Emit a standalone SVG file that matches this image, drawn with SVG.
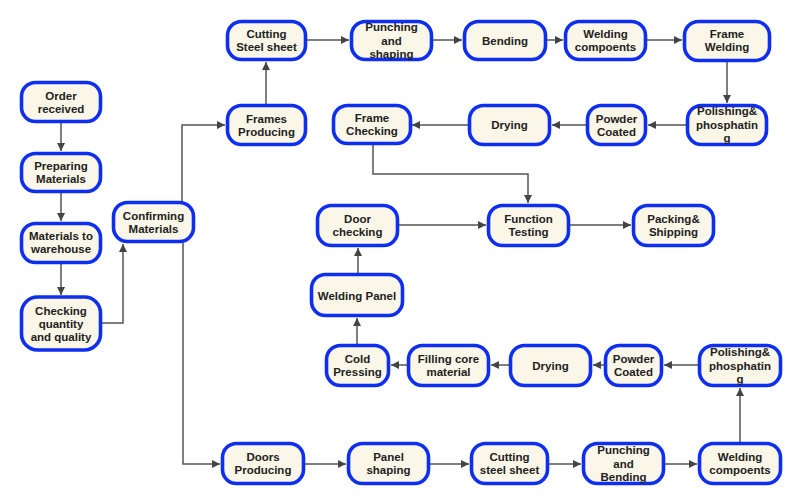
<svg xmlns="http://www.w3.org/2000/svg" width="800" height="504" viewBox="0 0 800 504">
<style>
.n rect{fill:#faf6e8;stroke:#0f2ff0;stroke-width:3.6}
.n text{font-family:"Liberation Sans",Arial,sans-serif;font-weight:bold;font-size:11.5px;fill:#222;text-anchor:middle;dominant-baseline:central}
.c path{fill:none;stroke:#555;stroke-width:1.5;marker-end:url(#a)}
</style>
<defs>
<marker id="a" viewBox="0 0 10 10" refX="10" refY="5" markerWidth="8" markerHeight="8" markerUnits="userSpaceOnUse" orient="auto">
<path d="M0,0 L10,5 L0,10 z" fill="#444"/>
</marker>
</defs>
<rect width="800" height="504" fill="#fff"/>
<g class="c" id="connectors">
<path d="M61,123 V151"/>
<path d="M61,193 V221"/>
<path d="M61,264 V295"/>
<path d="M102,323 H123 V244"/>
<path d="M182,201 V125 H225"/>
<path d="M183,243 V464 H220"/>
<path d="M266,104 V62"/>
<path d="M307,40 H349"/>
<path d="M433,40 H462"/>
<path d="M547,40 H563"/>
<path d="M647,40 H682"/>
<path d="M727,62 V103"/>
<path d="M686,125 H648"/>
<path d="M586,125 H552"/>
<path d="M468,125 H412"/>
<path d="M373,145 V174 H528 V203"/>
<path d="M399,225 H486"/>
<path d="M570,225 H631"/>
<path d="M358,273 V248"/>
<path d="M357,344 V318"/>
<path d="M407,365 H391"/>
<path d="M509,365 H491"/>
<path d="M604,365 H593"/>
<path d="M698,365 H664"/>
<path d="M740,442 V388"/>
<path d="M305,464 H346"/>
<path d="M430,464 H469"/>
<path d="M549,464 H581"/>
<path d="M665,464 H697"/>
</g>
<g class="n" id="order"><rect x="21.5" y="82.5" width="79" height="39" rx="14"/><text x="61" y="96">Order<tspan x="61" dy="13">received</tspan></text></g>
<g class="n" id="prep"><rect x="21.5" y="153.5" width="79" height="38" rx="14"/><text x="61" y="166">Preparing<tspan x="61" dy="13">Materials</tspan></text></g>
<g class="n" id="mat"><rect x="21.5" y="223.5" width="79" height="39" rx="14"/><text x="61" y="236">Materials to<tspan x="61" dy="13">warehouse</tspan></text></g>
<g class="n" id="check"><rect x="21.5" y="297" width="79" height="53" rx="16"/><text x="61" y="311">Checking<tspan x="61" dy="13">quantity</tspan><tspan x="61" dy="13">and quality</tspan></text></g>
<g class="n" id="confirm"><rect x="113.5" y="202.5" width="80" height="39" rx="14"/><text x="153.5" y="215.5">Confirming<tspan x="153.5" dy="13">Materials</tspan></text></g>
<g class="n" id="framesProd"><rect x="227.5" y="105.5" width="78" height="39" rx="14"/><text x="266.5" y="118.5">Frames<tspan x="266.5" dy="13">Producing</tspan></text></g>
<g class="n" id="cutTop"><rect x="227.5" y="21.5" width="78" height="38" rx="14"/><text x="266.5" y="34">Cutting<tspan x="266.5" dy="13">Steel sheet</tspan></text></g>
<g class="n" id="punchTop"><rect x="351.5" y="21.5" width="80" height="38" rx="14"/><text x="391.5" y="27">Punching<tspan x="391.5" dy="13.5">and</tspan><tspan x="391.5" dy="13.5">shaping</tspan></text></g>
<g class="n" id="bendTop"><rect x="464.5" y="21.5" width="81" height="38" rx="14"/><text x="505" y="40.5">Bending</text></g>
<g class="n" id="weldTop"><rect x="565.5" y="21.5" width="80" height="38" rx="14"/><text x="605.5" y="34">Welding<tspan x="605.5" dy="13">compoents</tspan></text></g>
<g class="n" id="frameWeld"><rect x="684.5" y="21.5" width="85" height="39" rx="14"/><text x="727" y="34">Frame<tspan x="727" dy="13">Welding</tspan></text></g>
<g class="n" id="polishTop"><rect x="687.5" y="105.5" width="79" height="39" rx="14"/><text x="727" y="111">Polishing&amp;<tspan x="727" dy="13.5">phosphatin</tspan><tspan x="727" dy="13.5">g</tspan></text></g>
<g class="n" id="powderTop"><rect x="587.5" y="105.5" width="58" height="39" rx="14"/><text x="616.5" y="118.5">Powder<tspan x="616.5" dy="13">Coated</tspan></text></g>
<g class="n" id="dryTop"><rect x="469.5" y="105.5" width="80" height="39" rx="14"/><text x="509.5" y="125">Drying</text></g>
<g class="n" id="frameCheck"><rect x="333.5" y="105.5" width="77" height="38" rx="14"/><text x="372" y="118">Frame<tspan x="372" dy="13">Checking</tspan></text></g>
<g class="n" id="doorCheck"><rect x="317.5" y="205.5" width="80" height="40" rx="14"/><text x="357.5" y="218.5">Door<tspan x="357.5" dy="13">checking</tspan></text></g>
<g class="n" id="funcTest"><rect x="488.5" y="205.5" width="80" height="40" rx="14"/><text x="528.5" y="218.5">Function<tspan x="528.5" dy="13">Testing</tspan></text></g>
<g class="n" id="packing"><rect x="633.5" y="205.5" width="80" height="40" rx="14"/><text x="673.5" y="218.5">Packing&amp;<tspan x="673.5" dy="13">Shipping</tspan></text></g>
<g class="n" id="weldPanel"><rect x="311.5" y="274.5" width="91" height="41" rx="14"/><text x="357" y="295.5">Welding Panel</text></g>
<g class="n" id="cold"><rect x="326.5" y="345.5" width="62" height="40" rx="14"/><text x="357.5" y="358.5">Cold<tspan x="357.5" dy="13">Pressing</tspan></text></g>
<g class="n" id="filling"><rect x="408.5" y="345.5" width="80" height="40" rx="14"/><text x="448.5" y="358.5">Filling core<tspan x="448.5" dy="13">material</tspan></text></g>
<g class="n" id="dryBot"><rect x="510.5" y="345.5" width="80" height="40" rx="14"/><text x="550.5" y="365.5">Drying</text></g>
<g class="n" id="powderBot"><rect x="605.5" y="345.5" width="56" height="40" rx="14"/><text x="633.5" y="358.5">Powder<tspan x="633.5" dy="13">Coated</tspan></text></g>
<g class="n" id="polishBot"><rect x="699.5" y="345.5" width="81" height="40" rx="14"/><text x="740" y="352">Polishing&amp;<tspan x="740" dy="13.5">phosphatin</tspan><tspan x="740" dy="13.5">g</tspan></text></g>
<g class="n" id="doorsProd"><rect x="222.5" y="443.5" width="81" height="40" rx="14"/><text x="263" y="456.5">Doors<tspan x="263" dy="13">Producing</tspan></text></g>
<g class="n" id="panel"><rect x="348.5" y="443.5" width="80" height="40" rx="14"/><text x="388.5" y="456.5">Panel<tspan x="388.5" dy="13">shaping</tspan></text></g>
<g class="n" id="cutBot"><rect x="471.5" y="443.5" width="76" height="40" rx="14"/><text x="509.5" y="456.5">Cutting<tspan x="509.5" dy="13">steel sheet</tspan></text></g>
<g class="n" id="punchBot"><rect x="583.5" y="443.5" width="80" height="40" rx="14"/><text x="623.5" y="450">Punching<tspan x="623.5" dy="13.5">and</tspan><tspan x="623.5" dy="13.5">Bending</tspan></text></g>
<g class="n" id="weldBot"><rect x="699.5" y="443.5" width="81" height="40" rx="14"/><text x="740" y="456.5">Welding<tspan x="740" dy="13">compoents</tspan></text></g>
</svg>
